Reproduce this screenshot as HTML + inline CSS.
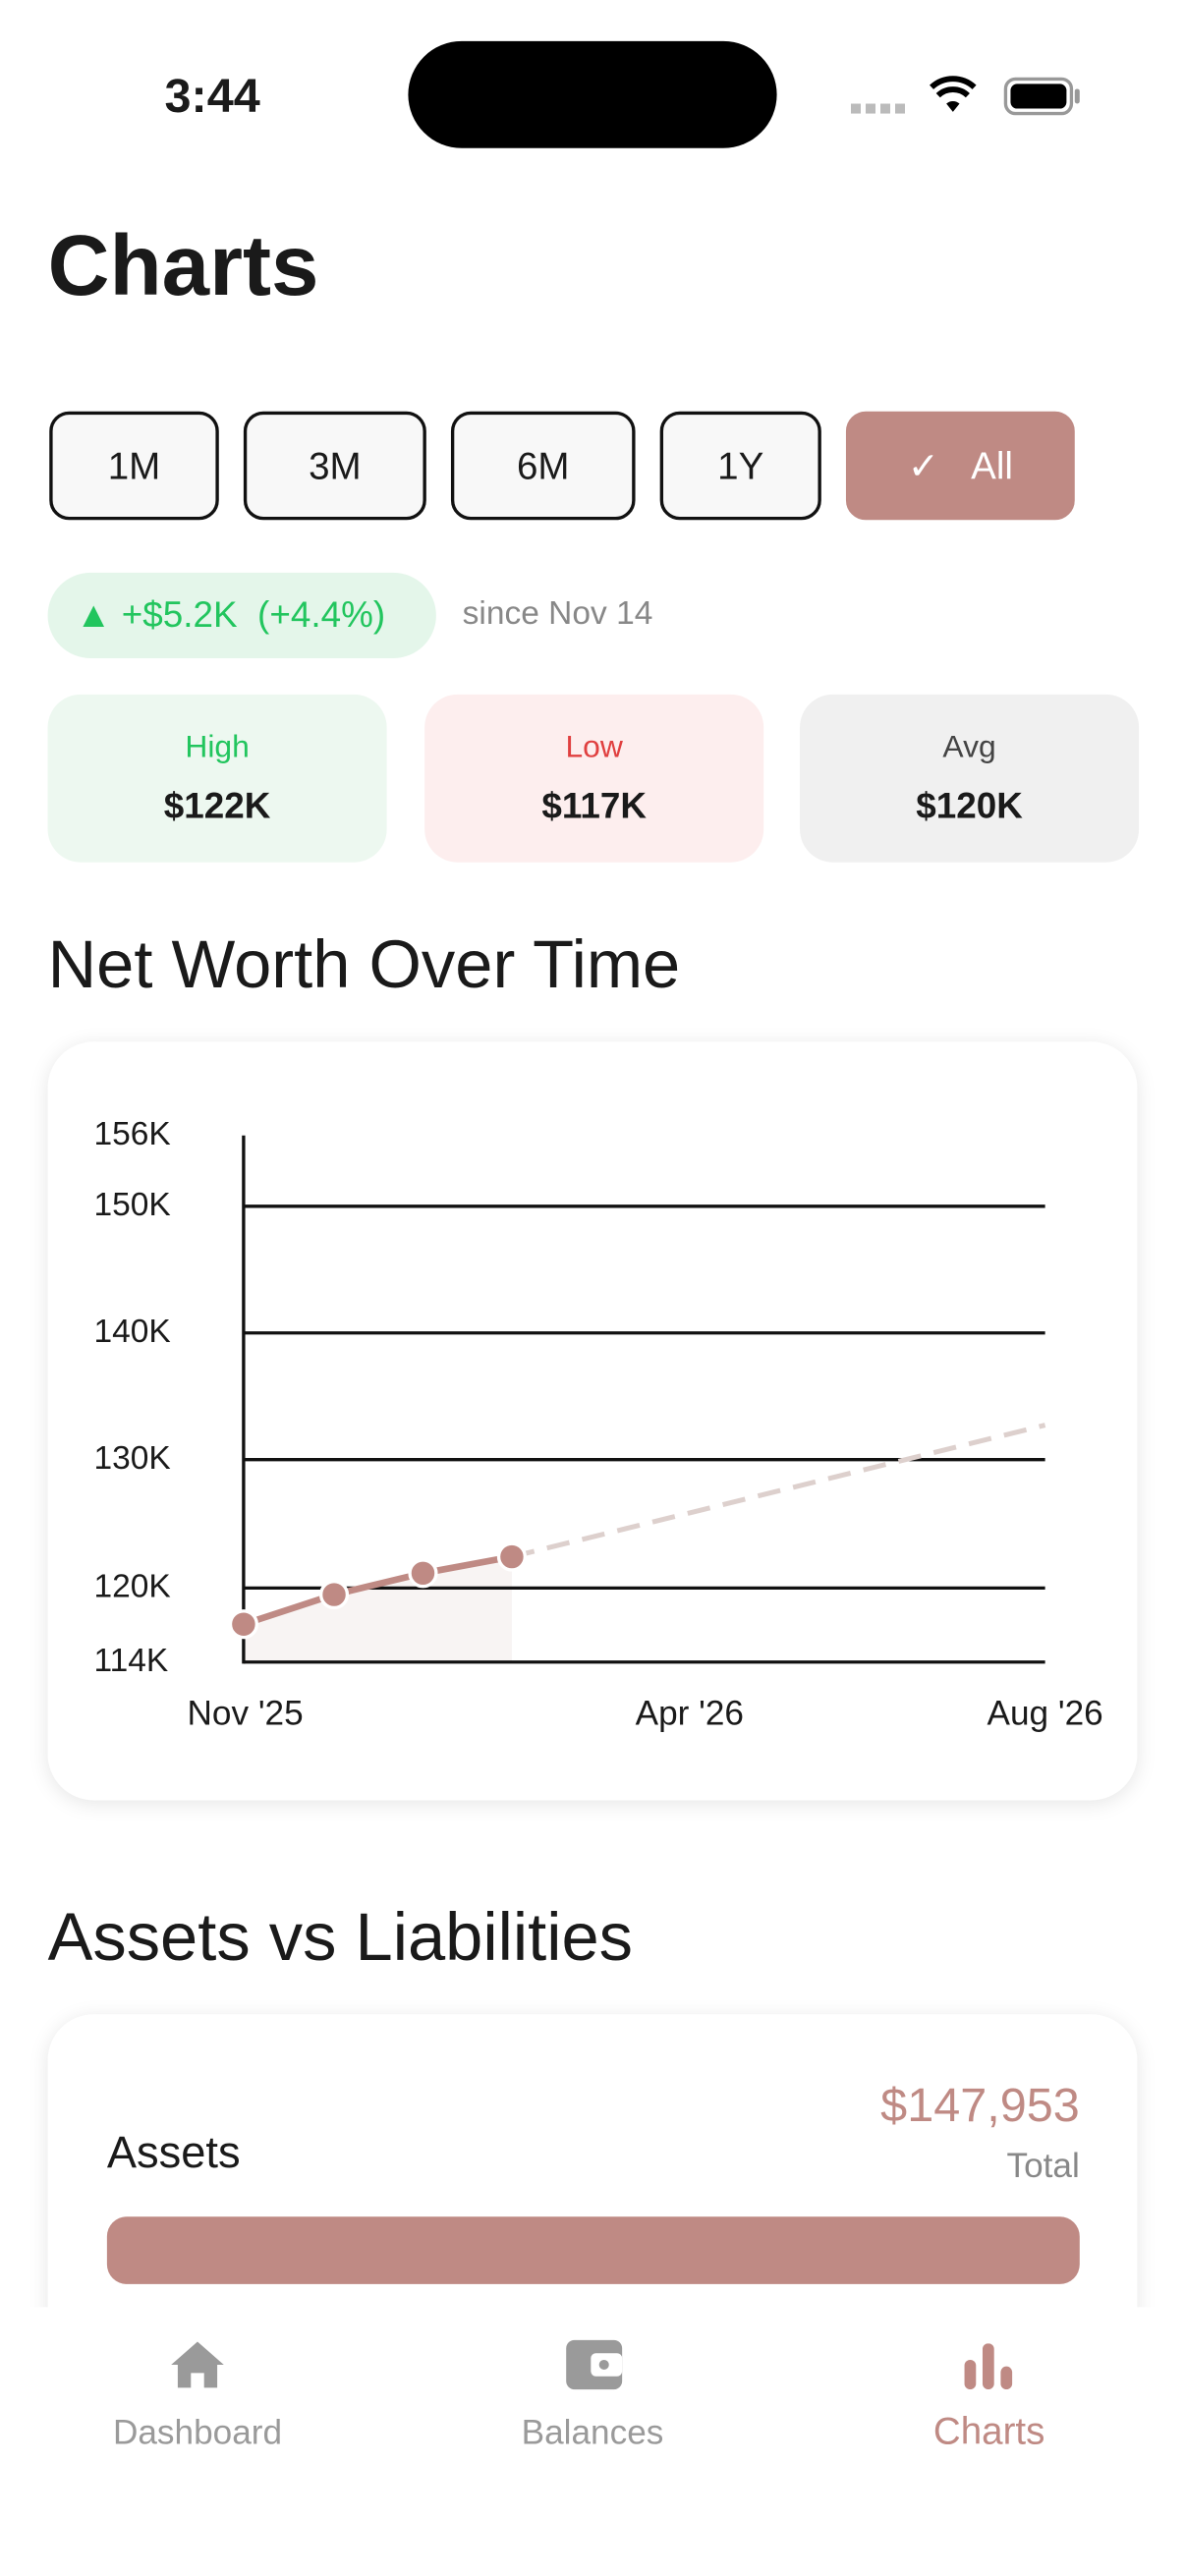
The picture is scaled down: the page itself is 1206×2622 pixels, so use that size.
<!DOCTYPE html>
<html><head><meta charset="utf-8"><style>
*{margin:0;padding:0;box-sizing:border-box}
html,body{width:1206px;height:2622px;overflow:hidden;background:#fff}
#w{position:absolute;left:0;top:0;width:720px;height:1565px;transform:scale(1.675);transform-origin:0 0;font-family:"Liberation Sans",sans-serif;color:#1a1a1a}
.a{position:absolute}
.btn{position:absolute;top:250px;height:66px;border:2px solid #111;border-radius:12px;background:#f8f8f8;font-size:23px;display:flex;align-items:center;justify-content:center}
.card{position:absolute;top:422px;height:102px;width:206px;border-radius:20px;text-align:center}
.card .l{font-size:19px;margin-top:22px}
.card .v{font-size:22px;font-weight:bold;margin-top:11px}
.yl{position:absolute;left:57px;font-size:20px;transform:translateY(-50%)}
.xl{position:absolute;top:1030px;font-size:21px;transform:translateX(-50%)}
.tab{position:absolute;top:1467px;font-size:20px;color:#9a9a9a;transform:translateX(-50%)}
</style></head><body><div id="w">
<div class="a" style="left:100px;top:43px;font-size:29px;font-weight:bold">3:44</div>
<div class="a" style="left:248px;top:25px;width:224px;height:65px;border-radius:33px;background:#000"></div>
<div class="a" style="left:517px;top:63px;width:34px;height:6px;background:repeating-linear-gradient(90deg,#bbb 0 6px,transparent 6px 9px)"></div>
<svg class="a" style="left:564px;top:46px" width="30" height="24" viewBox="0 0 30 24"><path d="M15 22 L11 17 A6 6 0 0 1 19 17Z" fill="#000"/><path d="M6 12 A13 13 0 0 1 24 12" stroke="#000" stroke-width="3.5" fill="none"/><path d="M2 7 A19 19 0 0 1 28 7" stroke="#000" stroke-width="3.5" fill="none"/></svg>
<div class="a" style="left:610px;top:47px;width:42px;height:23px;border:2px solid #999;border-radius:7px;padding:2px"><div style="width:100%;height:100%;background:#000;border-radius:4px"></div></div>
<div class="a" style="left:653px;top:54px;width:3px;height:9px;background:#999;border-radius:2px"></div>
<div class="a" style="left:29px;top:132px;font-size:52px;font-weight:bold">Charts</div>
<div class="btn" style="left:30px;width:103px">1M</div>
<div class="btn" style="left:148px;width:111px">3M</div>
<div class="btn" style="left:274px;width:112px">6M</div>
<div class="btn" style="left:401px;width:98px">1Y</div>
<div class="btn" style="left:514px;width:139px;background:#bf8a84;border-color:#bf8a84;color:#fff">✓&nbsp;&nbsp;&nbsp;All</div>
<div class="a" style="left:29px;top:348px;width:236px;height:52px;border-radius:26px;background:#e4f6ea;color:#22c55e;font-size:22px;line-height:52px;padding-left:17px">▲ +$5.2K&nbsp; (+4.4%)</div>
<div class="a" style="left:281px;top:362px;font-size:20px;color:#888">since Nov 14</div>
<div class="card" style="left:29px;background:#edf8f0"><div class="l" style="color:#22c55e">High</div><div class="v">$122K</div></div>
<div class="card" style="left:258px;background:#fdeeee"><div class="l" style="color:#e04040">Low</div><div class="v">$117K</div></div>
<div class="card" style="left:486px;background:#f0f0f0"><div class="l" style="color:#444">Avg</div><div class="v">$120K</div></div>
<div class="a" style="left:29px;top:563px;font-size:41px">Net Worth Over Time</div>
<div class="a" style="left:29px;top:633px;width:662px;height:461px;border-radius:28px;background:#fff;box-shadow:0 2px 12px rgba(0,0,0,.1)"></div>
<svg class="a" style="left:0;top:0" width="720" height="1100">
<path d="M148 987 L203 969 L257 956 L311 946 L311 1010 L148 1010Z" fill="#f8f4f3"/>
<g stroke="#111" stroke-width="2"><line x1="148" y1="733" x2="635" y2="733"/><line x1="148" y1="810" x2="635" y2="810"/><line x1="148" y1="887" x2="635" y2="887"/><line x1="148" y1="965" x2="635" y2="965"/><line x1="148" y1="690" x2="148" y2="1011"/><line x1="148" y1="1010" x2="635" y2="1010"/></g>
<line x1="311" y1="946" x2="635" y2="866" stroke="#ddd0cd" stroke-width="3" stroke-dasharray="14 8"/>
<polyline points="148,987 203,969 257,956 311,946" fill="none" stroke="#bf8a84" stroke-width="4"/>
<g fill="#bf8a84" stroke="#fff" stroke-width="2"><circle cx="148" cy="987" r="8"/><circle cx="203" cy="969" r="8"/><circle cx="257" cy="956" r="8"/><circle cx="311" cy="946" r="8"/></g>
</svg>
<div class="yl" style="top:690px">156K</div><div class="yl" style="top:733px">150K</div><div class="yl" style="top:810px">140K</div><div class="yl" style="top:887px">130K</div><div class="yl" style="top:965px">120K</div><div class="yl" style="top:1010px">114K</div>
<div class="xl" style="left:149px">Nov '25</div><div class="xl" style="left:419px">Apr '26</div><div class="xl" style="left:635px">Aug '26</div>
<div class="a" style="left:29px;top:1154px;font-size:41px">Assets vs Liabilities</div>
<div class="a" style="left:29px;top:1224px;width:662px;height:300px;border-radius:28px;background:#fff;box-shadow:0 2px 12px rgba(0,0,0,.1)"></div>
<div class="a" style="left:65px;top:1293px;font-size:27px">Assets</div>
<div class="a" style="right:64px;top:1264px;font-size:29px;color:#bf8a84">$147,953</div>
<div class="a" style="right:64px;top:1305px;font-size:21px;color:#888">Total</div>
<div class="a" style="left:65px;top:1347px;width:591px;height:41px;border-radius:12px;background:#bf8a84"></div>
<div class="a" style="left:0;top:1402px;width:720px;height:163px;background:#fff"></div>
<svg class="a" style="left:103px;top:1421px" width="34" height="32" viewBox="0 0 34 32"><path d="M17 2 L33 16 L29 16 L29 30 L21 30 L21 21 L13 21 L13 30 L5 30 L5 16 L1 16Z" fill="#9a9a9a"/></svg>
<svg class="a" style="left:343px;top:1420px" width="36" height="34" viewBox="0 0 36 34"><rect x="1" y="2" width="34" height="30" rx="5" fill="#9a9a9a"/><rect x="16" y="10" width="19" height="14" rx="3" fill="#fff"/><circle cx="24" cy="17" r="3" fill="#9a9a9a"/></svg>
<svg class="a" style="left:585px;top:1424px" width="32" height="28" viewBox="0 0 32 28"><rect x="1" y="10" width="7" height="18" rx="3.5" fill="#bf8a84"/><rect x="12" y="0" width="7" height="28" rx="3.5" fill="#bf8a84"/><rect x="23" y="14" width="7" height="14" rx="3.5" fill="#bf8a84"/></svg>
<div class="tab" style="left:120px;font-size:21px">Dashboard</div>
<div class="tab" style="left:360px;font-size:21px">Balances</div>
<div class="tab" style="left:601px;top:1464px;font-size:23px;color:#bf8a84">Charts</div>
</div></body></html>
